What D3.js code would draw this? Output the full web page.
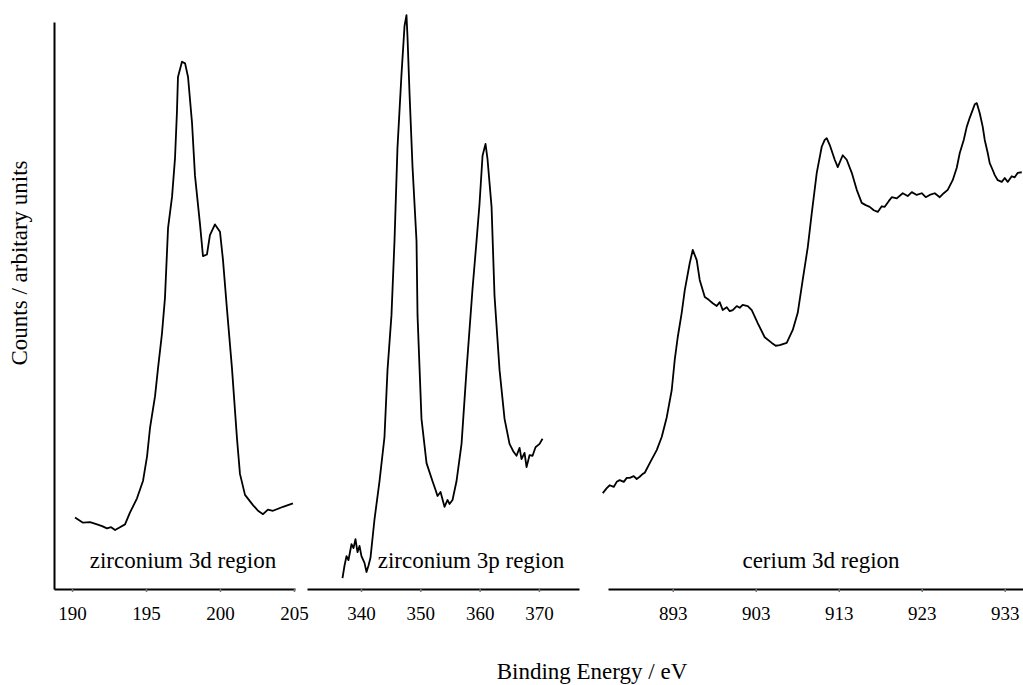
<!DOCTYPE html>
<html>
<head>
<meta charset="utf-8">
<script src="https://cdn.jsdelivr.net/npm/d3@7"></script>
<style>
  body { margin: 0; background: #fff; }
  svg { display: block; }
  text { font-family: "Liberation Serif", "Times New Roman", serif; fill: #000; }
</style>
</head>
<body>
<div id="chart-area"></div>
<script>
// binding energy (eV) and counts (arbitrary units)
var zr3dEnergy = [190.2, 190.74, 191.22, 191.69, 192.03, 192.36, 192.64, 192.91, 193.24, 193.58, 193.92, 194.39, 194.8, 195.07, 195.27, 195.61, 195.81, 196.08, 196.28, 196.49, 196.76, 196.96, 197.09, 197.16, 197.43, 197.64, 197.84, 198.11, 198.31, 198.65, 198.85, 199.12, 199.32, 199.66, 200.0, 200.2, 200.47, 200.81, 201.15, 201.35, 201.69, 202.23, 202.57, 202.91, 203.24, 203.58, 204.26, 204.93];
var zr3dCounts = [12.6, 11.7, 11.8, 11.4, 11.1, 10.7, 10.9, 10.4, 10.9, 11.4, 13.5, 16.0, 19.1, 23.4, 28.4, 34.0, 38.9, 45.1, 51.3, 63.7, 69.2, 76.0, 84.1, 90.3, 93.0, 92.7, 90.3, 82.2, 72.9, 64.3, 58.7, 59.0, 62.4, 64.3, 63.0, 58.1, 49.4, 38.9, 26.5, 20.3, 16.6, 14.8, 13.8, 13.2, 14.0, 13.8, 14.5, 15.1];

var zr3pEnergy = [336.88, 337.22, 337.56, 337.89, 338.4, 338.74, 339.07, 339.41, 339.75, 340.08, 340.59, 340.93, 341.26, 341.6, 342.28, 343.12, 343.96, 344.47, 345.14, 345.65, 346.15, 346.83, 347.34, 347.67, 347.84, 348.18, 348.69, 349.36, 349.53, 350.2, 351.05, 352.06, 352.56, 352.9, 353.41, 354.08, 354.59, 354.92, 355.43, 356.1, 356.95, 357.79, 358.8, 359.48, 359.98, 360.49, 360.99, 361.33, 362.01, 362.51, 363.36, 364.2, 365.04, 365.72, 366.22, 366.73, 367.06, 367.57, 367.91, 368.41, 368.92, 369.42, 370.1, 370.6];
var zr3pCounts = [1.9, 4.1, 5.8, 5.1, 7.9, 7.2, 8.8, 6.5, 7.6, 5.8, 4.6, 3.0, 4.1, 5.5, 12.3, 19.0, 26.8, 38.6, 48.3, 61.4, 77.8, 90.8, 99.3, 101.2, 97.4, 87.5, 74.4, 61.4, 48.3, 30.0, 22.2, 19.0, 17.5, 16.4, 17.1, 14.5, 15.7, 15.0, 15.7, 19.0, 25.6, 38.6, 52.9, 61.4, 67.9, 76.4, 78.5, 75.8, 67.4, 51.7, 38.6, 30.0, 25.6, 24.2, 23.5, 24.9, 22.9, 24.0, 21.5, 23.6, 23.5, 25.0, 25.6, 26.5];

var ce3dEnergy = [884.57, 885.05, 885.41, 885.89, 886.25, 886.61, 887.1, 887.46, 887.82, 888.3, 888.66, 889.02, 889.39, 889.63, 890.23, 891.07, 891.67, 892.28, 892.88, 893.24, 893.6, 894.08, 894.45, 895.05, 895.41, 895.89, 896.25, 896.86, 897.34, 897.82, 898.3, 898.66, 899.02, 899.51, 899.87, 900.23, 900.71, 901.07, 901.43, 902.04, 902.52, 903.24, 904.08, 904.93, 905.41, 905.89, 906.73, 907.46, 908.06, 908.66, 909.27, 909.75, 910.35, 910.95, 911.31, 911.55, 911.92, 912.52, 912.88, 913.48, 913.96, 914.57, 915.17, 915.77, 916.25, 916.73, 917.22, 917.7, 918.18, 918.54, 919.02, 919.39, 919.99, 920.71, 921.31, 921.8, 922.4, 923.0, 923.48, 923.96, 924.57, 925.17, 925.65, 926.13, 926.73, 927.22, 927.58, 928.06, 928.42, 928.78, 929.14, 929.39, 929.63, 929.99, 930.35, 930.59, 930.95, 931.19, 931.55, 931.8, 932.16, 932.64, 933.0, 933.36, 933.84, 934.2, 934.57, 935.05];
var ce3dCounts = [16.9, 17.8, 18.3, 18.0, 18.9, 19.2, 18.9, 19.6, 19.6, 19.9, 19.4, 19.8, 20.3, 20.5, 22.2, 24.5, 26.8, 30.3, 35.1, 40.4, 44.4, 48.7, 52.7, 57.5, 59.8, 58.0, 54.5, 51.5, 51.0, 50.4, 49.9, 50.6, 49.2, 49.7, 49.0, 49.2, 49.9, 49.6, 50.1, 49.9, 49.2, 46.9, 44.4, 43.4, 42.9, 43.0, 43.4, 45.7, 48.7, 54.5, 60.3, 66.3, 73.4, 78.0, 79.2, 79.5, 78.3, 75.7, 74.4, 76.5, 75.7, 73.4, 70.4, 68.1, 67.7, 67.4, 66.8, 66.5, 67.5, 67.4, 68.4, 69.1, 68.9, 69.8, 69.3, 70.0, 69.5, 69.8, 69.1, 69.5, 69.8, 69.1, 69.8, 70.4, 72.1, 74.3, 76.9, 79.2, 81.5, 83.1, 84.5, 85.5, 85.7, 83.9, 81.5, 79.2, 76.9, 75.1, 73.9, 73.0, 72.1, 71.8, 72.5, 71.8, 72.8, 72.6, 73.4, 73.5];

var zr3dTicks = [190, 195, 200, 205];
var zr3pTicks = [340, 350, 360, 370];
var ce3dTicks = [893, 903, 913, 923, 933];

var regionLabels = ["zirconium 3d region", "zirconium 3p region", "cerium 3d region"];

var width = 1023;
var height = 685;
var axisY = 589;
var axisTop = 22;

var svg = d3.select("#chart-area")
    .append("svg")
        .attr("width", width)
        .attr("height", height);

var y = d3.scaleLinear().domain([0, 100]).range([axisY, axisTop]);

// three broken x segments, one per region
var panels = [
    {energy: zr3dEnergy, counts: zr3dCounts, ticks: zr3dTicks, domain: [188.78, 205.07], range: [54, 295], label: regionLabels[0], labelX: 183},
    {energy: zr3pEnergy, counts: zr3pCounts, ticks: zr3pTicks, domain: [330.9, 376.75], range: [307, 579], label: regionLabels[1], labelX: 471},
    {energy: ce3dEnergy, counts: ce3dCounts, ticks: ce3dTicks, domain: [885.2, 935.2], range: [608, 1023], label: regionLabels[2], labelX: 821}
];

panels.forEach(function(p) {
    var x = d3.scaleLinear().domain(p.domain).range(p.range);

    var xAxisCall = d3.axisBottom(x)
        .tickValues(p.ticks)
        .tickSize(3)
        .tickSizeOuter(0)
        .tickPadding(15);

    var xAxisGroup = svg.append("g")
        .attr("class", "x axis")
        .attr("transform", "translate(0, " + axisY + ")")
        .call(xAxisCall);

    xAxisGroup.select(".domain")
        .attr("stroke", "#000")
        .attr("stroke-width", 2);
    xAxisGroup.selectAll(".tick line")
        .attr("stroke", "#777")
        .attr("stroke-width", 1.5);
    xAxisGroup.selectAll(".tick text")
        .attr("font-family", "Liberation Serif, serif")
        .attr("font-size", "19px")
        .attr("fill", "#000");

    var pts = p.energy.map(function(e, i) { return [e, p.counts[i]]; });

    var line = d3.line()
        .x(function(d) { return x(d[0]); })
        .y(function(d) { return y(d[1]); });

    svg.append("path")
        .datum(pts)
        .attr("fill", "none")
        .attr("stroke", "#000")
        .attr("stroke-width", 1.8)
        .attr("stroke-linejoin", "round")
        .attr("d", line);

    svg.append("text")
        .attr("x", p.labelX)
        .attr("y", 568)
        .attr("font-size", "23px")
        .attr("text-anchor", "middle")
        .text(p.label);
});

// y axis: plain line, no ticks
var yAxisGroup = svg.append("g")
    .attr("class", "y-axis")
    .attr("transform", "translate(54, 0)")
    .call(d3.axisLeft(y).tickValues([]).tickSizeOuter(0));

yAxisGroup.select(".domain")
    .attr("stroke", "#000")
    .attr("stroke-width", 2);

svg.append("text")
    .attr("x", -263)
    .attr("y", 27)
    .attr("font-size", "23px")
    .attr("text-anchor", "middle")
    .attr("transform", "rotate(-90)")
    .text("Counts / arbitary units");

svg.append("text")
    .attr("x", 592)
    .attr("y", 679)
    .attr("font-size", "23px")
    .attr("text-anchor", "middle")
    .text("Binding Energy / eV");
</script>
</body>
</html>
